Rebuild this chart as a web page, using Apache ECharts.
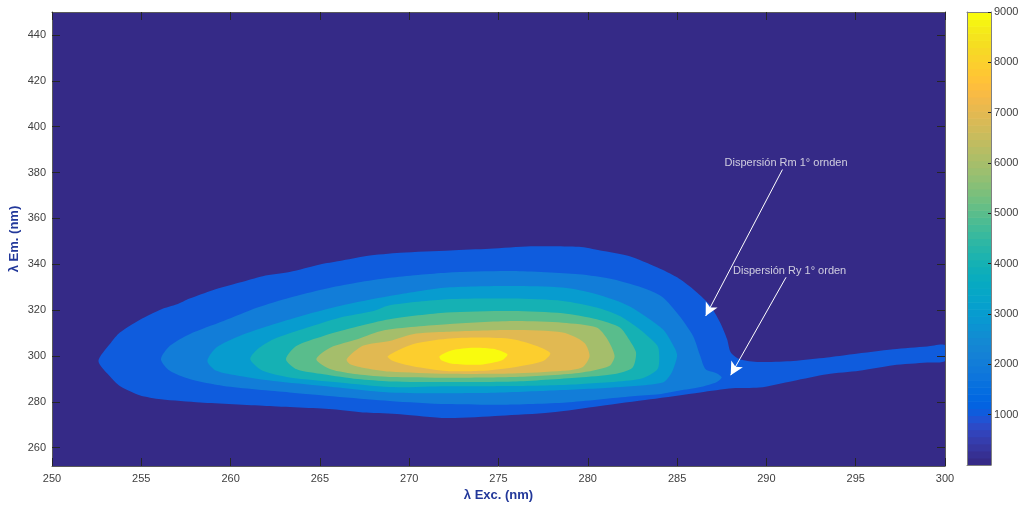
<!DOCTYPE html>
<html><head><meta charset="utf-8">
<script src="https://cdn.jsdelivr.net/npm/echarts@6/dist/echarts.min.js"></script>
<style>html,body{margin:0;padding:0;background:#fff}#c{width:1022px;height:507px}</style>
</head><body><div id="c"></div>
<script>
// ---- axis ticks ----
const exTicks = [250,255,260,265,270,275,280,285,290,295,300];
const emTicks = [260,280,300,320,340,360,380,400,420,440];
const cbTicks = [1000,2000,3000,4000,5000,6000,7000,8000,9000];

// ---- contour levels (filled contour boundaries, ex/em in nm) ----
const levels = [1000,2000,3000,4000,5000,6000,7000,8000,9000];

const ex1000 = [252.6,253.3,253.8,254.9,256.1,257.0,257.7,259.0,260.5,261.8,263.3,265.0,266.1,267.6,269.5,272.3,274.5,276.8,279.5,280.7,282.3,283.9,285.0,285.9,286.8,287.4,287.8,288.0,288.5,289.6,291.5,293.4,294.8,297.1,299.0,300.0,300.0,299.0,297.1,295.2,293.4,291.5,289.6,288.1,286.3,283.5,280.7,277.9,275.1,272.1,269.5,267.6,265.7,262.0,258.3,256.1,254.9,253.8,253.3];
const em1000 = [297.8,305.8,310.2,315.7,320.3,322.5,325.0,328.7,332.0,334.8,336.6,339.9,341.4,343.6,345.0,346.0,346.7,347.8,347.6,346.0,343.6,338.6,334.3,329.1,322.5,314.7,307.3,301.6,298.6,297.4,297.8,299.3,300.7,302.9,304.1,304.7,297.8,297.1,295.9,293.5,292.0,289.1,286.2,285.9,284.1,281.1,278.2,275.3,273.9,272.9,274.6,275.3,276.8,278.2,279.7,281.1,282.9,286.9,290.6];

const ex2000 = [256.1,256.6,257.7,259.6,261.5,263.3,265.2,267.1,268.9,272.1,275.8,279.5,281.4,283.3,284.2,285.1,285.9,286.3,286.6,287.2,287.5,287.2,286.3,285.1,284.0,282.5,278.8,275.1,272.1,268.9,263.3,259.6,257.7,256.6];
const em2000 = [298.6,304.4,309.5,315.2,321.1,325.4,329.1,332.0,334.1,336.3,337.0,335.6,333.4,329.1,325.6,317.7,308.6,299.9,294.2,292.5,290.7,288.5,286.4,284.8,283.3,282.4,279.7,278.7,279.0,280.4,284.1,286.9,289.9,293.5];

const ex3000 = [258.7,259.2,260.5,262.4,264.3,266.1,268.9,272.1,275.8,278.6,280.5,282.3,284.2,284.9,285.0,284.7,284.2,281.4,277.7,274.0,268.9,265.2,262.4,260.5,259.2];
const em3000 = [297.8,303.7,308.7,313.8,318.2,321.8,326.1,329.8,330.5,329.8,326.9,321.8,311.6,302.9,299.9,292.8,288.4,286.2,284.8,283.8,284.1,286.9,289.1,291.3,293.5];

const ex4000 = [261.1,261.5,262.4,264.3,266.1,268.0,268.9,272.1,275.8,278.6,280.5,281.8,282.9,283.9,284.0,283.9,282.9,279.5,275.8,272.1,268.9,266.1,263.3,261.8];
const em4000 = [298.6,302.9,307.3,312.4,316.7,319.6,322.1,324.7,325.0,324.0,321.1,317.4,311.6,304.4,300.0,294.2,289.9,287.7,286.9,286.8,286.4,288.4,290.6,293.5];

const ex5000 = [263.1,263.7,265.2,267.1,268.9,272.1,275.8,278.6,280.5,281.8,282.3,282.7,282.5,281.4,279.5,275.8,272.1,268.9,267.1,265.2,263.7];
const em5000 = [298.6,304.4,308.7,312.8,316.0,318.9,319.6,318.6,316.0,312.4,307.3,301.5,294.9,292.0,290.6,288.8,288.6,288.9,289.9,292.0,294.2];

const ex6000 = [264.8,265.6,267.1,268.6,272.1,275.8,278.6,280.5,281.1,281.5,281.2,279.5,275.8,272.1,268.9,267.1,265.6];
const em6000 = [298.6,303.7,307.3,311.2,313.8,315.2,314.5,312.4,307.3,300.0,295.6,292.6,290.8,290.5,290.8,292.0,294.2];

const ex7000 = [266.5,267.4,268.9,270.2,272.1,275.8,278.6,279.8,280.1,279.7,278.6,275.8,272.1,268.9,267.4,266.7];
const em7000 = [298.6,304.4,306.5,309.5,310.5,311.3,310.2,305.8,300.0,295.1,293.5,292.3,292.2,293.2,294.9,296.4];

const ex8000 = [268.8,270.2,272.1,274.0,275.8,277.1,277.9,277.5,275.8,274.0,272.1,270.2,269.1];
const em8000 = [299.9,305.1,307.5,308.0,307.3,304.4,301.2,297.8,295.0,293.5,293.4,295.5,297.8];

const ex9000 = [271.7,272.4,273.6,274.7,275.5,275.2,274.0,272.4,271.8];
const em9000 = [299.9,302.5,303.6,303.1,300.7,298.1,296.2,296.6,298.1];

// ---- annotations ----
const annText = ['Dispersión Rm 1° ornden','Dispersión Ry 1° orden'];
const annTextPos = [[291.1,384.2],[291.3,337.0]];
const annFrom = [[290.9,381.3],[291.1,334.3]];
const annTo = [[286.6,317.4],[288.0,291.6]];

// ---- colormap (parula, 64) ----
const parula = [[0.2081,0.1663,0.5292],[0.2116,0.1898,0.5777],[0.2123,0.2138,0.6270],[0.2081,0.2386,0.6771],[0.1959,0.2645,0.7279],[0.1707,0.2919,0.7792],[0.1253,0.3242,0.8303],[0.0591,0.3598,0.8683],[0.0117,0.3875,0.8820],[0.0060,0.4086,0.8828],[0.0165,0.4266,0.8786],[0.0329,0.4430,0.8720],[0.0498,0.4586,0.8641],[0.0629,0.4737,0.8554],[0.0723,0.4887,0.8467],[0.0779,0.5040,0.8384],[0.0793,0.5200,0.8312],[0.0749,0.5375,0.8263],[0.0641,0.5570,0.8240],[0.0488,0.5772,0.8228],[0.0343,0.5966,0.8199],[0.0265,0.6137,0.8135],[0.0239,0.6287,0.8038],[0.0231,0.6418,0.7913],[0.0228,0.6535,0.7768],[0.0267,0.6642,0.7607],[0.0384,0.6743,0.7436],[0.0590,0.6838,0.7254],[0.0843,0.6928,0.7062],[0.1133,0.7015,0.6859],[0.1453,0.7098,0.6646],[0.1801,0.7177,0.6424],[0.2178,0.7250,0.6193],[0.2586,0.7317,0.5954],[0.3022,0.7376,0.5712],[0.3482,0.7424,0.5473],[0.3953,0.7459,0.5244],[0.4420,0.7481,0.5033],[0.4871,0.7491,0.4840],[0.5300,0.7491,0.4661],[0.5709,0.7485,0.4494],[0.6099,0.7473,0.4337],[0.6473,0.7456,0.4188],[0.6834,0.7435,0.4044],[0.7184,0.7411,0.3905],[0.7525,0.7384,0.3768],[0.7858,0.7356,0.3633],[0.8185,0.7327,0.3498],[0.8507,0.7299,0.3360],[0.8824,0.7274,0.3217],[0.9139,0.7258,0.3063],[0.9450,0.7261,0.2886],[0.9739,0.7314,0.2666],[0.9938,0.7455,0.2403],[0.9990,0.7653,0.2164],[0.9955,0.7861,0.1967],[0.9880,0.8066,0.1794],[0.9789,0.8271,0.1633],[0.9697,0.8481,0.1475],[0.9626,0.8705,0.1309],[0.9589,0.8949,0.1132],[0.9598,0.9218,0.0948],[0.9661,0.9514,0.0755],[0.9763,0.9831,0.0538]];
const cMin = 0, cMax = 9000;

function pc(i){const c=parula[i];return 'rgb('+Math.round(c[0]*255)+','+Math.round(c[1]*255)+','+Math.round(c[2]*255)+')';}
function levelColor(v){return pc(Math.max(0,Math.min(63,Math.floor((v-cMin)/(cMax-cMin)*64))));}

const FONT = '"Liberation Sans", Arial, Helvetica, sans-serif';
const contours = [[ex1000,em1000],[ex2000,em2000],[ex3000,em3000],[ex4000,em4000],[ex5000,em5000],[ex6000,em6000],[ex7000,em7000],[ex8000,em8000],[ex9000,em9000]];

function polySeries(ex, em, level, k){
  return {
    type:'custom', xAxisIndex:0, yAxisIndex:0, clip:true, silent:true, z:2+k*0.01,
    data: ex.map((x,i)=>[x, em[i]]),
    encode:{x:0,y:1},
    renderItem:function(params, api){
      if(params.dataIndex!==0) return null;
      const pts = ex.map((x,i)=>api.coord([x, em[i]]));
      return {type:'polygon', shape:{points:pts, smooth:0.25}, style:{fill:levelColor(level), stroke:null}};
    }
  };
}

const series = contours.map((c,k)=>polySeries(c[0],c[1],levels[k],k));

// annotation text + arrows
series.push({
  type:'scatter', xAxisIndex:0, yAxisIndex:0, silent:true, z:20,
  symbolSize:0,
  data: annText.map((t,i)=>({name:t, value:annTextPos[i]})),
  label:{show:true, position:'inside', formatter:'{b}', color:'#f4f4f4', fontSize:11, fontFamily:FONT},
  markLine:{
    silent:true, animation:false,
    symbol:['none','arrow'], symbolSize:[10,13],
    lineStyle:{color:'#ffffff', width:1, type:'solid'},
    label:{show:false},
    emphasis:{disabled:true},
    data: annFrom.map((f,i)=>[{coord:f},{coord:annTo[i]}])
  }
});

// colorbar
const cbBins = parula.map((c,i)=>i);
series.push({
  type:'custom', xAxisIndex:2, yAxisIndex:2, silent:true, z:2,
  data: cbBins.map(i=>[i]),
  encode:{tooltip:0},
  renderItem:function(params, api){
    const i = api.value(0);
    const v0 = cMin + i*(cMax-cMin)/64, v1 = cMin + (i+1)*(cMax-cMin)/64;
    const p0 = api.coord([0, v0]), p1 = api.coord([1, v1]);
    return {type:'rect', shape:{x:p0[0], y:p1[1], width:p1[0]-p0[0], height:p0[1]-p1[1]+0.6}, style:{fill:pc(i)}};
  }
});

const axisLineStyle = {color:'#5a5a5a', width:1};
const tickStyle = {color:'#262626', width:1};
const labelStyle = {color:'#404040', fontSize:11, fontFamily:FONT};
const nameStyle = {color:'#22389a', fontWeight:'bold', fontSize:13, fontFamily:FONT};
const plain = v => String(v);

const option = {
  animation:false,
  backgroundColor:'#ffffff',
  grid:[
    {left:52, top:12, width:893, height:454, show:true, backgroundColor:'#352a87', borderWidth:0, containLabel:false, outerBoundsMode:'none'},
    {left:967, top:12, width:24, height:453, show:false, containLabel:false, outerBoundsMode:'none'}
  ],
  xAxis:[
    {gridIndex:0, type:'value', min:exTicks[0], max:exTicks[exTicks.length-1], interval:5, position:'bottom', z:10,
     axisLine:{show:true, lineStyle:axisLineStyle}, axisTick:{show:true, inside:true, length:8, lineStyle:tickStyle},
     axisLabel:Object.assign({margin:7, showMinLabel:true, showMaxLabel:true, formatter:plain}, labelStyle), splitLine:{show:false},
     name:'λ Exc. (nm)', nameLocation:'middle', nameGap:23, nameMoveOverlap:false, nameTextStyle:nameStyle},
    {gridIndex:0, type:'value', min:exTicks[0], max:exTicks[exTicks.length-1], interval:5, position:'top', z:10,
     axisLine:{show:true, lineStyle:axisLineStyle}, axisTick:{show:true, inside:true, length:8, lineStyle:tickStyle},
     axisLabel:{show:false}, splitLine:{show:false}},
    {gridIndex:1, type:'value', min:0, max:1, position:'bottom', z:10,
     axisLine:{show:true, onZero:false, lineStyle:{color:'#808080'}}, axisTick:{show:false}, axisLabel:{show:false}, splitLine:{show:false}},
    {gridIndex:1, type:'value', min:0, max:1, position:'top', z:10,
     axisLine:{show:true, onZero:false, lineStyle:{color:'#808080'}}, axisTick:{show:false}, axisLabel:{show:false}, splitLine:{show:false}}
  ],
  yAxis:[
    {gridIndex:0, type:'value', min:252, max:450, position:'left', z:10,
     axisLine:{show:true, onZero:false, lineStyle:axisLineStyle},
     axisTick:{show:true, inside:true, length:8, lineStyle:tickStyle, customValues:emTicks},
     axisLabel:Object.assign({margin:6, customValues:emTicks, formatter:plain}, labelStyle), splitLine:{show:false},
     name:'λ Em. (nm)', nameLocation:'middle', nameGap:31, nameMoveOverlap:false, nameRotate:90, nameTextStyle:nameStyle},
    {gridIndex:0, type:'value', min:252, max:450, position:'right', z:10,
     axisLine:{show:true, onZero:false, lineStyle:axisLineStyle},
     axisTick:{show:true, inside:true, length:8, lineStyle:tickStyle, customValues:emTicks},
     axisLabel:{show:false}, splitLine:{show:false}},
    {gridIndex:1, type:'value', min:cMin, max:cMax, position:'right', z:10,
     axisLine:{show:true, onZero:false, lineStyle:{color:'#808080'}},
     axisTick:{show:true, inside:true, length:3, lineStyle:tickStyle, customValues:cbTicks},
     axisLabel:Object.assign({margin:3, customValues:cbTicks, formatter:plain}, labelStyle), splitLine:{show:false}},
    {gridIndex:1, type:'value', min:cMin, max:cMax, position:'left', z:10,
     axisLine:{show:true, onZero:false, lineStyle:{color:'#808080'}},
     axisTick:{show:false}, axisLabel:{show:false}, splitLine:{show:false}}
  ],
  series:series
};

const chart = echarts.init(document.getElementById('c'), null, {renderer:'canvas'});
chart.setOption(option);
</script>
</body></html>
